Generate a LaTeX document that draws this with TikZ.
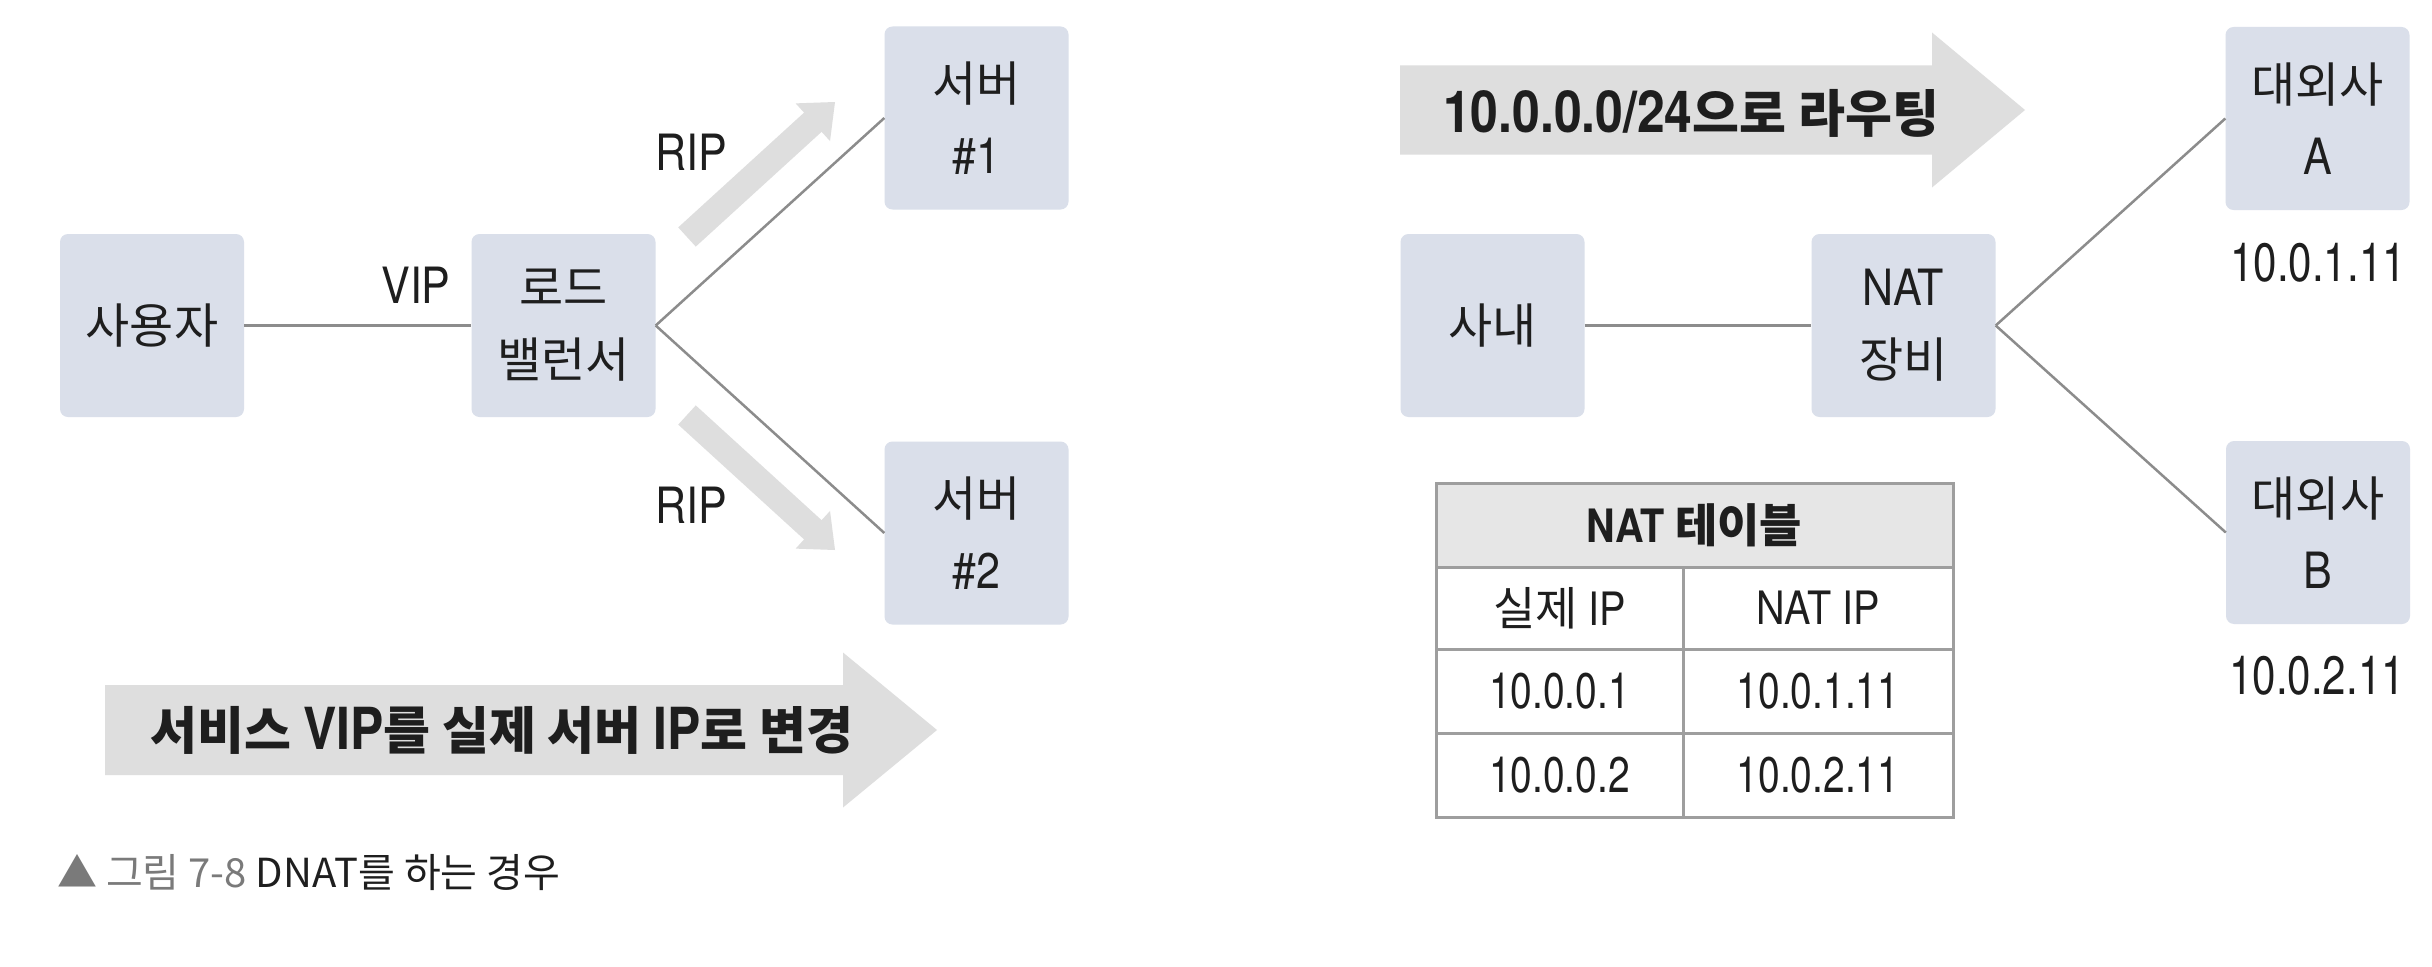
\documentclass[tikz,border=0pt]{standalone}
\usepackage{fontspec}
\setmainfont{Noto Sans CJK KR}
\newfontfamily\latfont{TeX Gyre Heros}[FakeStretch=0.86]
\newfontfamily\numfont{TeX Gyre Heros}[FakeStretch=0.78]
\usetikzlibrary{calc}
\definecolor{boxfill}{HTML}{DADFEA}
\definecolor{arrowgray}{HTML}{DEDEDE}
\definecolor{linegray}{HTML}{8C8C8C}
\definecolor{headgray}{HTML}{E6E6E6}
\definecolor{tblgray}{HTML}{9E9E9E}
\definecolor{ink}{HTML}{1E1E1E}
\definecolor{capgray}{HTML}{7A7A7A}
\newcommand\boxfont{\fontsize{48pt}{72pt}\selectfont}
\newcommand\latbox[1]{{\latfont\fontsize{50pt}{72pt}\selectfont #1}}
\newcommand\latb[1]{{\latfont\fontsize{58pt}{60pt}\selectfont #1}}
\newcommand\tablat[1]{{\latfont\fontsize{46pt}{56pt}\selectfont #1}}
\newcommand\tabnum[1]{{\numfont\fontsize{50pt}{56pt}\selectfont #1}}
% #1 style, #2 tail, #3 tip, #4 half shaft, #5 half head, #6 head length
\newcommand\blockarrow[6]{%
  \coordinate (ba-base) at ($(#3)!#6!(#2)$);
  \fill[#1] ($(#2)!#4!90:(#3)$) -- ($(ba-base)!#4!90:(#3)$) -- ($(ba-base)!#5!90:(#3)$)
    -- (#3) -- ($(ba-base)!#5!-90:(#3)$) -- ($(ba-base)!#4!-90:(#3)$) -- ($(#2)!#4!-90:(#3)$) -- cycle;
}
\begin{document}
\begin{tikzpicture}[x=1pt,y=-1pt,
  every node/.style={text=ink},
  box/.style={rectangle, rounded corners=8pt, fill=boxfill, minimum width=184pt, minimum height=183pt, inner sep=0pt, align=center, font=\boxfont},
  link/.style={draw=linegray, line width=2.5pt},
  blockfill/.style={fill=arrowgray},
  lbl/.style={inner sep=0pt, font=\latfont\fontsize{50pt}{60pt}\selectfont},
  iplbl/.style={inner sep=0pt, font=\numfont\fontsize{54pt}{60pt}\selectfont},
  arrowtext/.style={inner sep=0pt, font=\bfseries\fontsize{51pt}{60pt}\selectfont},
  tcell/.style={rectangle, draw=tblgray, line width=3pt, inner sep=0pt, font=\fontsize{46pt}{56pt}\selectfont},
]
\useasboundingbox (0,0) rectangle (2432,966);
\fill[white] (0,0) rectangle (2432,966);

% block arrows
\coordinate (r1t) at (687,237); \coordinate (r1h) at (835,102);
\coordinate (r2t) at (687,415); \coordinate (r2h) at (835,550);
\blockarrow{blockfill}{r1t}{r1h}{13pt}{25.5pt}{30pt}
\blockarrow{blockfill}{r2t}{r2h}{13pt}{25.5pt}{30pt}
\coordinate (la-t) at (105,730); \coordinate (la-h) at (937,730);
\blockarrow{blockfill}{la-t}{la-h}{45pt}{77.5pt}{94pt}
\coordinate (ra-t) at (1400,110); \coordinate (ra-h) at (2025,110);
\blockarrow{blockfill}{ra-t}{ra-h}{44.5pt}{77.5pt}{93pt}

% boxes
\node[box] (user) at (152,325.5) {사용자};
\node[box] (lb) at (563.5,325.5) {로드\\밸런서};
\node[box] (s1) at (976.5,118) {서버\\\latbox{\#1}};
\node[box] (s2) at (976.5,533) {서버\\\latbox{\#2}};
\node[box] (in) at (1492.5,325.5) {사내};
\node[box] (nat) at (1903.5,325.5) {\latbox{NAT}\\장비};
\node[box] (pa) at (2317.5,118.5) {대외사\\\latbox{A}};
\node[box] (pb) at (2318,532.5) {대외사\\\latbox{B}};

% connectors
\draw[link] (user) -- (lb);
\draw[link] (lb.east) -- (s1.west);
\draw[link] (lb.east) -- (s2.west);
\draw[link] (in) -- (nat);
\draw[link] (nat.east) -- (pa.west);
\draw[link] (nat.east) -- (pb.west);

% labels
\node[lbl] (vip) at (416,285) {VIP};
\node[lbl] (rip1) at (691,152) {RIP};
\node[lbl] (rip2) at (691,505) {RIP};
\node[iplbl] (ipa) at (2318,263) {10.0.1.11};
\node[iplbl] (ipb) at (2317,676) {10.0.2.11};

% arrow texts
\node[arrowtext] (lat) at (502,730) {서비스 \latb{VIP}를 실제 서버 \latb{IP}로 변경};
\node[arrowtext] (rat) at (1691,113) {\latb{10.0.0.0/24}으로 라우팅};

% NAT table
\node[tcell, fill=headgray, minimum width=517pt, minimum height=84pt, font=\bfseries\fontsize{46pt}{56pt}\selectfont] (th) at (1694.5,525) {\tablat{NAT} 테이블};
\node[tcell, minimum width=247pt, minimum height=82pt] (c11) at (1559.5,608) {실제 \tablat{IP}};
\node[tcell, minimum width=270pt, minimum height=82pt] (c12) at (1818,608) {\tablat{NAT IP}};
\node[tcell, minimum width=247pt, minimum height=84pt] (c21) at (1559.5,691) {\tabnum{10.0.0.1}};
\node[tcell, minimum width=270pt, minimum height=84pt] (c22) at (1818,691) {\tabnum{10.0.1.11}};
\node[tcell, minimum width=247pt, minimum height=84pt] (c31) at (1559.5,775) {\tabnum{10.0.0.2}};
\node[tcell, minimum width=270pt, minimum height=84pt] (c32) at (1818,775) {\tabnum{10.0.2.11}};

% caption
\node[anchor=base west, inner sep=0pt, font=\fontsize{40pt}{48pt}\selectfont] (cap) at (57,887) {\textcolor{capgray}{▲ 그림 7-8} DNAT를 하는 경우};
\end{tikzpicture}
\end{document}
